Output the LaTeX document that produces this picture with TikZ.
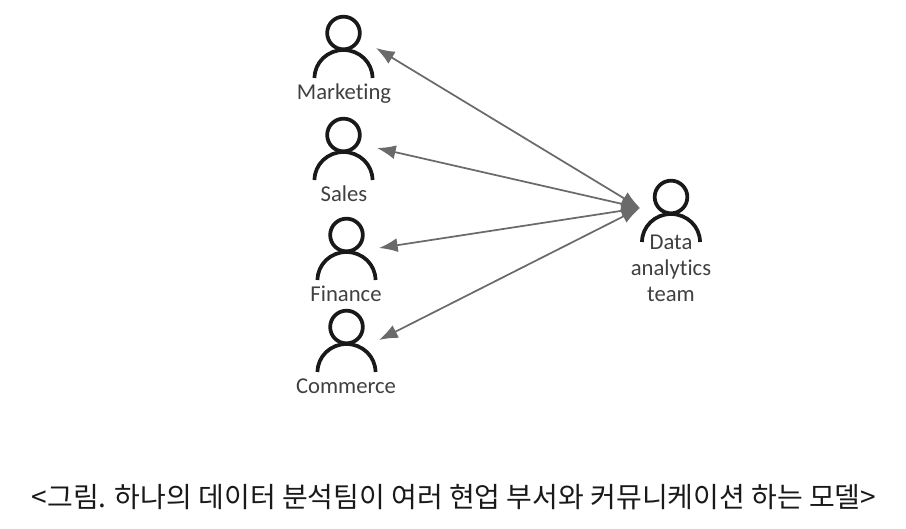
\documentclass[tikz,border=0pt]{standalone}
\usepackage{fontspec}
\setmainfont{Carlito}[Ligatures=NoCommon]
\newfontfamily\krfont{Noto Sans CJK KR}
\usetikzlibrary{arrows.meta}
\definecolor{linkgray}{HTML}{6A6A6A}
\definecolor{labelgray}{HTML}{404040}
\tikzset{
  x=0.75pt,y=-0.75pt,
  headring/.style={draw=black!90,line width=2.8pt,circle,minimum size=24.5pt,inner sep=0pt},
  bodyarc/.style={draw=black!90,line width=2.8pt},
  personlabel/.style={text=labelgray,font=\fontsize{17pt}{19.5pt}\selectfont,align=center,inner sep=0pt},
  link/.style={draw=linkgray,line width=1.3pt,{Latex[length=14pt,width=10.5pt]}-{Latex[length=14pt,width=10.5pt]}},
  caption/.style={text=black!90,font=\krfont\fontsize{21pt}{24pt}\selectfont,inner sep=0pt}
}
\newcommand{\personicon}[3]{% name, cx, head cy
  \node[headring] (#1) at (#2,#3) {};
  \draw[bodyarc] (#2-29,#3+45) arc[start angle=180,end angle=360,x radius=29,y radius=28];
}
\begin{document}
\begin{tikzpicture}
\useasboundingbox (0,0) rectangle (906,528);
\personicon{marketing}{343.5}{33}
\personicon{sales}{343.5}{135}
\personicon{finance}{346.5}{235}
\personicon{commerce}{346.5}{327}
\personicon{data}{671}{197}
\node[personlabel] (lmarketing) at (344,94) {Marketing};
\node[personlabel] (lsales) at (344,194) {Sales};
\node[personlabel] (lfinance) at (346,294) {Finance};
\node[personlabel] (lcommerce) at (346,386) {Commerce};
\node[personlabel] (ldata) at (671,268.5) {Data\\analytics\\team};
\coordinate (hub) at (640,208);
\coordinate (pm) at (376,48);
\coordinate (ps) at (377,148);
\coordinate (pf) at (379,248);
\coordinate (pc) at (379,340);
\draw[link] (pm) -- (hub);
\draw[link] (ps) -- (hub);
\draw[link] (pf) -- (hub);
\draw[link] (pc) -- (hub);
\node[caption] (cap) at (454,497.5) {<그림. 하나의 데이터 분석팀이 여러 현업 부서와 커뮤니케이션 하는 모델>};
\end{tikzpicture}
\end{document}
